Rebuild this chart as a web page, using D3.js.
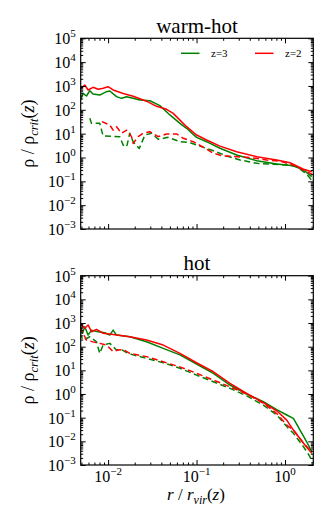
<!DOCTYPE html>
<html><head><meta charset="utf-8">
<script src="https://cdn.jsdelivr.net/npm/d3@7"></script>
<style>
body{margin:0;background:#fff}
svg{display:block}
</style>
</head><body>
<svg id="chart" width="333" height="528" font-family="Liberation Serif"></svg>
<script>
// ---------- data (r / r_vir , rho / rho_crit) ----------
const panelTitles = ["warm-hot", "hot"];
const legendLabels = ["z=3", "z=2"];
const xTickValues = [1e-2, 1e-1, 1e0];
const xTickExponents = ["\u22122", "\u22121", "0"];
const yTickValues = [1e-3, 1e-2, 1e-1, 1e0, 1e1, 1e2, 1e3, 1e4, 1e5];
const yTickExponents = ["\u22123", "\u22122", "\u22121", "0", "1", "2", "3", "4", "5"];

// warm-hot, z=3 (green) solid
const whZ3Solid_r   = [0.0048,0.00521,0.00569,0.00621,0.00676,0.00805,0.00959,0.01045,0.01245,0.0142,0.0162,0.0192,0.0229,0.0297,0.0385,0.05,0.0649,0.0772,0.1,0.13,0.184,0.284,0.48,0.807,1.245,1.62,2.01];
const whZ3Solid_rho = [219,493,380,630,458,415,575,615,357,303,355,303,257,240,150,61,27,16.8,7.0,4.6,2.43,1.27,0.73,0.53,0.45,0.30,0.157];
// warm-hot, z=3 (green) dashed
const whZ3Dash_r    = [0.00621,0.00649,0.00805,0.00878,0.01355,0.0148,0.0162,0.0176,0.0192,0.0225,0.0261,0.031,0.0368,0.0478,0.0649,0.0841,0.109,0.155,0.219,0.31,0.48,0.74,1.047,1.36,1.76,2.01];
const whZ3Dash_rho  = [44,27,27,8,7.5,3.3,2.8,10.4,4.6,2.4,8.8,10.4,5.8,7.0,4.6,4.2,3.0,1.92,1.16,0.785,0.57,0.52,0.48,0.41,0.2,0.11];
// warm-hot, z=2 (red) solid
const whZ2Solid_r   = [0.0048,0.00545,0.00594,0.00676,0.0077,0.00878,0.01,0.0114,0.0148,0.0192,0.0272,0.0353,0.0458,0.0545,0.0649,0.0772,0.1,0.13,0.184,0.284,0.48,0.807,1.14,1.62,2.01];
const whZ2Solid_rho = [726,1100,680,880,726,800,930,680,480,370,230,140,105,71,37,19.6,8.8,5.4,3.0,1.75,1.08,0.785,0.6,0.32,0.254];
// warm-hot, z=2 (red) dashed
const whZ2Dash_r    = [0.0085,0.01045,0.0114,0.01245,0.0142,0.0162,0.0184,0.0192,0.0219,0.0249,0.0297,0.0368,0.0458,0.0595,0.0707,0.0918,0.119,0.155,0.2,0.284,0.402,0.622,0.88,1.245,1.62,2.01];
const whZ2Dash_rho  = [32,23,14,19.6,10.4,14,7.5,3.9,7.5,10.4,12,7.5,9.7,9.7,6.4,4.6,2.7,1.5,1.16,1.08,1.0,0.785,0.70,0.48,0.30,0.20];

// hot, z=3 (green) solid
const hZ3Solid_r    = [0.0048,0.00513,0.00545,0.00594,0.00649,0.0077,0.00918,0.01045,0.0114,0.01245,0.0176,0.0272,0.042,0.0649,0.1,0.155,0.239,0.369,0.569,0.807,1.047,1.245,1.48,1.76,2.01];
const hZ3Solid_rho  = [830,370,700,310,500,430,390,310,500,310,262,162,85,45,18.6,7.5,2.4,1.0,0.47,0.22,0.13,0.093,0.030,0.0096,0.0036];
// hot, z=3 (green) dashed
const hZ3Dash_r     = [0.0048,0.00521,0.00621,0.00739,0.00805,0.00878,0.01045,0.01245,0.0142,0.0162,0.0192,0.0272,0.042,0.0649,0.1,0.155,0.239,0.369,0.569,0.807,1.047,1.245,1.62,1.92,2.04];
const hZ3Dash_rho   = [370,190,262,162,52,117,138,72,76,56,45,32,21,12.3,6.3,3.3,1.74,0.83,0.34,0.13,0.042,0.022,0.0059,0.0022,0.0012];
// hot, z=2 (red) solid
const hZ2Solid_r    = [0.0048,0.00545,0.00594,0.00649,0.00739,0.00878,0.0114,0.0176,0.0272,0.042,0.0649,0.1,0.155,0.239,0.369,0.569,0.807,1.047,1.245,1.62,2.01];
const hZ2Solid_rho  = [970,600,830,430,540,370,330,262,190,117,52,21,8.7,2.8,1.07,0.43,0.195,0.079,0.030,0.0083,0.0031];
// hot, z=2 (red) dashed
const hZ2Dash_r     = [0.0048,0.00569,0.00676,0.00805,0.00959,0.0114,0.013,0.0148,0.0176,0.0272,0.042,0.0649,0.1,0.155,0.239,0.369,0.569,0.807,1.047,1.245,1.62,2.01];
const hZ2Dash_rho   = [700,190,160,138,117,62,72,76,52,38,23,14,7.5,3.9,2.0,1.0,0.41,0.15,0.049,0.030,0.0083,0.0036];

const GREEN = "#008000", RED = "#ff0000";
const FONT = "Liberation Serif";

const zip = (rs, vs) => rs.map((r, i) => [r, vs[i]]);
const panels = [
  {title: panelTitles[0], top: 38.3, bottom: 229, legend: true, xLabels: false,
   series: [
     {data: zip(whZ3Solid_r, whZ3Solid_rho), color: GREEN, dash: null},
     {data: zip(whZ3Dash_r, whZ3Dash_rho), color: GREEN, dash: "6,3.5"},
     {data: zip(whZ2Solid_r, whZ2Solid_rho), color: RED, dash: null},
     {data: zip(whZ2Dash_r, whZ2Dash_rho), color: RED, dash: "6,3.5"}]},
  {title: panelTitles[1], top: 275.7, bottom: 465, legend: false, xLabels: true,
   series: [
     {data: zip(hZ3Solid_r, hZ3Solid_rho), color: GREEN, dash: null},
     {data: zip(hZ3Dash_r, hZ3Dash_rho), color: GREEN, dash: "6,3.5"},
     {data: zip(hZ2Solid_r, hZ2Solid_rho), color: RED, dash: null},
     {data: zip(hZ2Dash_r, hZ2Dash_rho), color: RED, dash: "6,3.5"}]}
];

const left = 80.7, right = 313.3;
const x = d3.scaleLog().domain([0.0049, 2.09]).range([left, right]);

function minorTicks(lo, hi) {
  const out = [];
  for (let e = Math.floor(Math.log10(lo)); e <= Math.ceil(Math.log10(hi)); e++) {
    for (let m = 2; m <= 9; m++) {
      const v = m * Math.pow(10, e);
      if (v >= lo && v <= hi) out.push(v);
    }
  }
  return out;
}
const xMinor = minorTicks(0.0049, 2.09);
const yMinor = minorTicks(1e-3, 1e5);

const svg = d3.select("#chart");
const txt = (sel) => sel.append("text").attr("font-family", FONT).attr("fill", "#000");

panels.forEach((p, pi) => {
  const y = d3.scaleLog().domain([1e-3, 1e5]).range([p.bottom, p.top]);
  const g = svg.append("g").attr("font-family", FONT);
  const clipId = "clip" + pi;
  svg.append("defs").append("clipPath").attr("id", clipId)
    .append("rect").attr("x", left).attr("y", p.top)
    .attr("width", right - left).attr("height", p.bottom - p.top);

  const line = d3.line().x(d => x(d[0])).y(d => y(d[1]));
  const lg = g.append("g").attr("clip-path", `url(#${clipId})`);
  p.series.forEach(s => {
    lg.append("path").datum(s.data).attr("d", line)
      .attr("fill", "none").attr("stroke", s.color).attr("stroke-width", 1.5)
      .attr("stroke-dasharray", s.dash).attr("stroke-linejoin", "round");
  });

  const mk = (axisFn, scale, vals, size) => axisFn(scale).tickValues(vals)
      .tickSizeInner(-size).tickSizeOuter(0).tickFormat("");
  const addAxis = (axis, tx, ty) => {
    const a = g.append("g").attr("transform", `translate(${tx},${ty})`).call(axis);
    a.attr("font-family", null).attr("font-size", null).attr("text-anchor", null).attr("fill", null);
    a.select(".domain").remove();
    a.selectAll("text").remove();
    a.selectAll("line").attr("stroke", "#000").attr("stroke-width", 1);
    return a;
  };
  addAxis(mk(d3.axisLeft, y, yTickValues, 5), left, 0);
  addAxis(mk(d3.axisLeft, y, yMinor, 2.5), left, 0);
  addAxis(mk(d3.axisRight, y, yTickValues, 5), right, 0);
  addAxis(mk(d3.axisRight, y, yMinor, 2.5), right, 0);
  addAxis(mk(d3.axisBottom, x, xTickValues, 5), 0, p.bottom);
  addAxis(mk(d3.axisBottom, x, xMinor, 2.5), 0, p.bottom);
  addAxis(mk(d3.axisTop, x, xTickValues, 5), 0, p.top);
  addAxis(mk(d3.axisTop, x, xMinor, 2.5), 0, p.top);

  g.append("rect").attr("x", left).attr("y", p.top)
    .attr("width", right - left).attr("height", p.bottom - p.top)
    .attr("fill", "none").attr("stroke", "#000").attr("stroke-width", 1.2);

  yTickValues.forEach((v, i) => {
    const t = txt(g).attr("x", left - 5).attr("y", y(v) + 6)
      .attr("text-anchor", "end").attr("font-size", 16);
    t.append("tspan").text("10");
    t.append("tspan").attr("dy", "-7").attr("font-size", 11).text(yTickExponents[i]);
  });

  if (p.xLabels) {
    xTickValues.forEach((v, i) => {
      const t = txt(g).attr("x", x(v)).attr("y", p.bottom + 17)
        .attr("text-anchor", "middle").attr("font-size", 16);
      t.append("tspan").text("10");
      t.append("tspan").attr("dy", "-7").attr("font-size", 11).text(xTickExponents[i]);
    });
  }

  txt(g).attr("x", (left + right) / 2).attr("y", p.top - 5.5)
    .attr("text-anchor", "middle").attr("font-size", 21).text(p.title);

  const cy = (p.top + p.bottom) / 2;
  const yl = txt(g).attr("transform", `translate(34,${cy}) rotate(-90)`)
    .attr("text-anchor", "middle").attr("font-size", 18);
  yl.append("tspan").text("\u03c1 / \u03c1");
  yl.append("tspan").attr("dy", 4).attr("font-size", 12.5).attr("font-style", "italic").text("crit");
  yl.append("tspan").attr("dy", -4).text("(");
  yl.append("tspan").attr("font-style", "italic").text("z");
  yl.append("tspan").text(")");

  if (p.legend) {
    const items = [{label: legendLabels[0], color: GREEN, x0: 181}, {label: legendLabels[1], color: RED, x0: 255}];
    items.forEach(it => {
      g.append("line").attr("x1", it.x0).attr("x2", it.x0 + 18.5)
        .attr("y1", 53.3).attr("y2", 53.3).attr("stroke", it.color).attr("stroke-width", 1.5);
      txt(g).attr("x", it.x0 + 30).attr("y", 57).attr("font-size", 11).text(it.label);
    });
  }
});

const xl = txt(svg).attr("x", (left + right) / 2 - 1).attr("y", 500)
  .attr("text-anchor", "middle").attr("font-size", 17);
xl.append("tspan").attr("font-style", "italic").text("r");
xl.append("tspan").text(" / ");
xl.append("tspan").attr("font-style", "italic").text("r");
xl.append("tspan").attr("dy", 4).attr("font-size", 12).attr("font-style", "italic").text("vir");
xl.append("tspan").attr("dy", -4).text("(");
xl.append("tspan").attr("font-style", "italic").text("z");
xl.append("tspan").text(")");
</script>
</body></html>
